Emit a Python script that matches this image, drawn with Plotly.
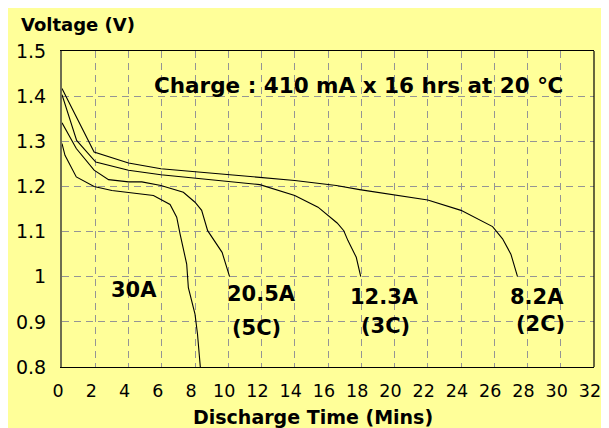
import plotly.graph_objects as go

# ---- data ----
x_ticks = [0, 2, 4, 6, 8, 10, 12, 14, 16, 18, 20, 22, 24, 26, 28, 30, 32]
y_ticks = [0.8, 0.9, 1.0, 1.1, 1.2, 1.3, 1.4, 1.5]
y_tick_labels = ["0.8", "0.9", "1", "1.1", "1.2", "1.3", "1.4", "1.5"]

t_8_2A = [0, 1.93, 4.0, 5.95, 10.1, 14.0, 16.5, 17.9, 22.0, 24.0, 25.9, 26.5, 27.0, 27.4]
v_8_2A = [1.417, 1.276, 1.252, 1.239, 1.226, 1.213, 1.202, 1.193, 1.170, 1.147, 1.111, 1.084, 1.05, 1.0]

t_12_3A = [0, 0.88, 2.03, 4.0, 5.95, 10.4, 11.9, 14.0, 15.4, 16.55, 16.95, 17.2, 17.7, 17.97]
v_12_3A = [1.403, 1.302, 1.254, 1.236, 1.226, 1.210, 1.204, 1.18, 1.154, 1.119, 1.102, 1.08, 1.043, 1.0]

t_20_5A = [0, 0.86, 1.93, 2.8, 4.0, 4.8, 5.95, 7.3, 8.0, 8.4, 8.76, 9.25, 9.63, 10.08]
v_20_5A = [1.341, 1.284, 1.236, 1.215, 1.21, 1.21, 1.202, 1.187, 1.165, 1.147, 1.102, 1.076, 1.054, 1.0]

t_30A = [0, 0.18, 0.86, 1.93, 3.0, 4.0, 5.5, 6.5, 6.9, 7.1, 7.5, 7.6, 8.0, 8.15, 8.32]
v_30A = [1.295, 1.269, 1.221, 1.2, 1.191, 1.187, 1.18, 1.16, 1.132, 1.095, 1.028, 0.976, 0.917, 0.873, 0.80]

series = [
    ("8.2A", t_8_2A, v_8_2A),
    ("12.3A", t_12_3A, v_12_3A),
    ("20.5A", t_20_5A, v_20_5A),
    ("30A", t_30A, v_30A),
]

labels = ["30A", "20.5A", "(5C)", "12.3A", "(3C)", "8.2A", "(2C)"]
label_t = [4.35, 12.0, 11.7, 19.4, 19.45, 28.55, 28.8]
label_v = [0.971, 0.962, 0.887, 0.956, 0.891, 0.956, 0.896]

charge_text = "Charge : 410 mA x 16 hrs at 20 ℃"
x_title = "Discharge Time (Mins)"
y_title = "Voltage (V)"

BG = "#FFFF99"
FONT = "DejaVu Sans"

fig = go.Figure()
for name, t, v in series:
    fig.add_trace(go.Scatter(x=t, y=v, mode="lines", name=name,
                             line=dict(color="black", width=1.1),
                             showlegend=False, hoverinfo="skip"))

for txt, tx, vy in zip(labels, label_t, label_v):
    fig.add_annotation(x=tx, y=vy, text="<b>%s</b>" % txt, showarrow=False,
                       xanchor="center", yanchor="middle",
                       font=dict(family=FONT, size=21, color="black"))

fig.add_annotation(x=17.85, y=1.424, text="<b>%s</b>" % charge_text, showarrow=False,
                   xanchor="center", yanchor="middle",
                   font=dict(family=FONT, size=21.5, color="black"))

fig.add_annotation(xref="paper", yref="paper", x=-0.0814, y=1.085,
                   text="<b>%s</b>" % y_title, showarrow=False,
                   xanchor="left", yanchor="middle",
                   font=dict(family=FONT, size=18, color="black"))
fig.add_annotation(xref="paper", yref="paper", x=0.4715, y=-0.158,
                   text="<b>%s</b>" % x_title, showarrow=False,
                   xanchor="center", yanchor="middle",
                   font=dict(family=FONT, size=19, color="black"))

# right frame line
fig.add_shape(type="line", xref="paper", yref="paper", x0=1, x1=1, y0=0, y1=1,
              line=dict(color="black", width=1.2))

fig.update_xaxes(range=[0, 32], tickvals=x_ticks, ticktext=[str(v) for v in x_ticks],
                 showgrid=True, gridcolor="#959595", gridwidth=1, griddash="7px,5px",
                 showline=True, linecolor="black", linewidth=1.2, mirror=True,
                 zeroline=False, ticks="", ticklabelstandoff=8,
                 ticklabelshift=-4,
                 tickfont=dict(family=FONT, size=17.5, color="black"))
fig.update_yaxes(range=[0.8, 1.5], tickvals=y_ticks, ticktext=y_tick_labels,
                 showgrid=True, gridcolor="#959595", gridwidth=1, griddash="7px,5px",
                 showline=True, linecolor="#6e6e50", linewidth=2,
                 zeroline=False, ticks="", ticklabelstandoff=10,
                 tickfont=dict(family=FONT, size=19, color="black"))

# page body has an 8px default margin, so the figure is 8px smaller and offset
fig.update_layout(width=601, height=420,
                  margin=dict(l=49, r=8, t=43, b=61, pad=0),
                  paper_bgcolor=BG, plot_bgcolor=BG,
                  showlegend=False)

fig.write_html("out.html")
